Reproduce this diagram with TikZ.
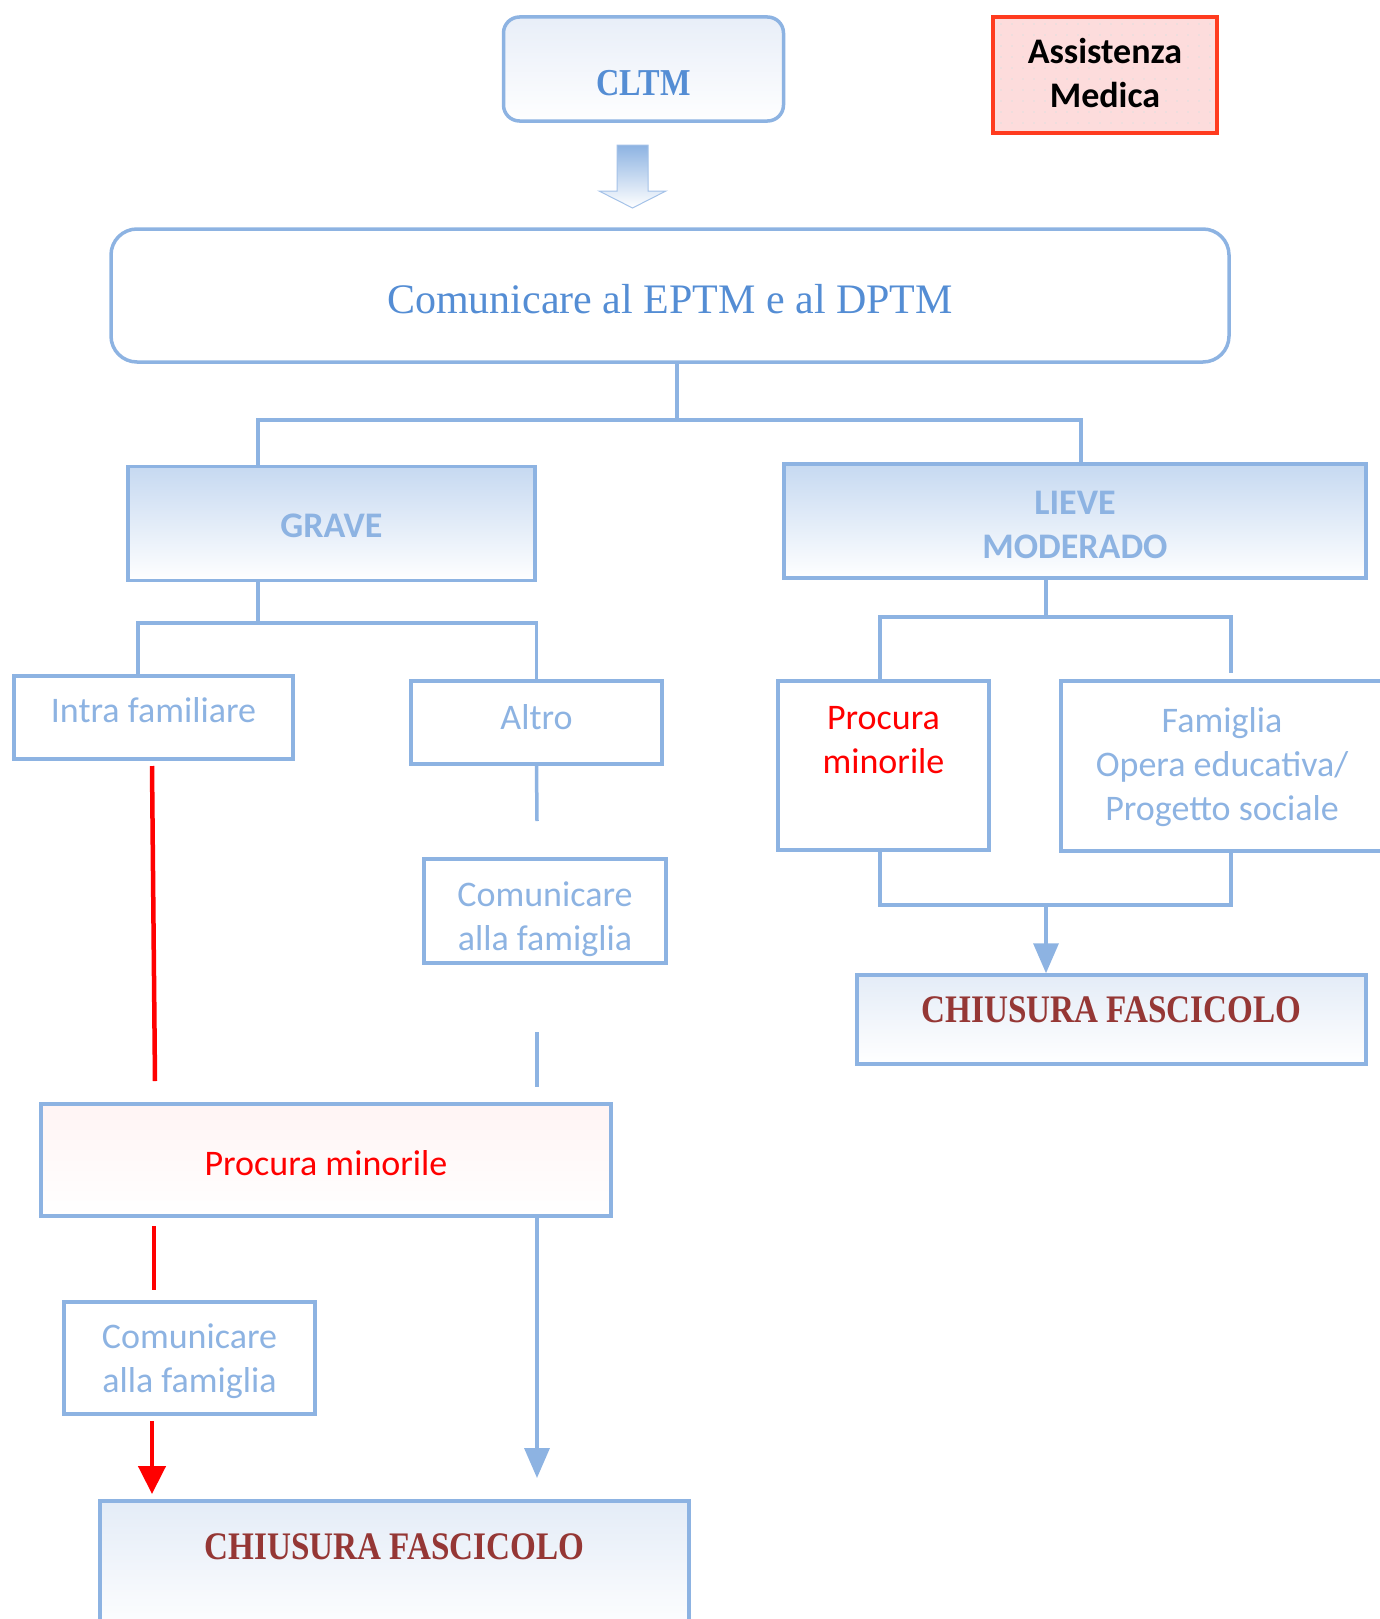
\documentclass[tikz,border=0pt]{standalone}
\usepackage{fontspec}
\setmainfont{Carlito}
\newfontfamily\titlefont[FakeStretch=0.85]{Liberation Serif}
\newfontfamily\plainserif{Liberation Serif}
\usetikzlibrary{arrows.meta,patterns.meta}
\definecolor{boxline}{RGB}{141,179,226}
\definecolor{softblue}{RGB}{141,179,226}
\definecolor{deepblue}{RGB}{84,141,212}
\definecolor{darkred}{RGB}{149,55,53}
\definecolor{gradtop}{RGB}{198,217,241}
\definecolor{cltmtop}{RGB}{232,238,248}
\definecolor{closetop}{RGB}{228,236,247}
\definecolor{procpink}{RGB}{255,244,244}
\definecolor{pinkfill}{RGB}{253,220,220}
\definecolor{alertline}{RGB}{255,59,31}
\tikzset{
  box/.style={draw=boxline, line width=3.5pt, inner sep=0pt, align=center,
              font=\fontsize{36}{44}\selectfont, text=softblue},
  level/.style={box, top color=gradtop, bottom color=white,
                font=\fontsize{36}{44}\selectfont\bfseries},
  closing/.style={box, top color=closetop, bottom color=white, text=darkred,
                  font=\fontsize{39}{46}\titlefont\bfseries},
  link/.style={draw=boxline, line width=3.5pt},
  flowarrow/.style={link, -{Triangle[width=25pt,length=30pt]}},
  redlink/.style={draw=red, line width=4.5pt},
  redarrow/.style={redlink, -{Triangle[width=27pt,length=28pt]}},
}
\begin{document}
\begin{tikzpicture}[x=1pt,y=-1pt]
  \useasboundingbox (0,0) rectangle (1380,1619);
  % top
  \node[box, rounded corners=16pt, top color=cltmtop, bottom color=white!96!cltmtop,
        minimum width=280pt, minimum height=104pt, text height=52pt, text depth=0pt,
        text=deepblue, font=\fontsize{38}{44}\titlefont\bfseries] (cltm) at (643.5,69) {CLTM};
  \shade[top color=boxline, bottom color=white, draw=boxline!80, line width=1pt]
    (617,145) -- (648,145) -- (648,191) -- (666,191) -- (632.5,208) -- (599,191) -- (617,191) -- cycle;
  \node[box, draw=alertline, preaction={fill=pinkfill}, pattern={Dots[distance=11pt,radius=0.9pt]},
        pattern color=black!12, minimum width=224pt, minimum height=116pt,
        text=black, font=\fontsize{36}{44}\selectfont\bfseries,
        text height=64pt, text depth=0pt] (medica) at (1105,75) {Assistenza\\Medica};
  \node[box, rounded corners=26pt, minimum width=1118pt, minimum height=133pt,
        text height=35pt, text depth=0pt, text=deepblue,
        font=\fontsize{42}{48}\plainserif] (eptm) at (670,295.5) {Comunicare al EPTM e al DPTM};
  % severity
  \node[level, minimum width=407pt, minimum height=114pt, text height=27pt, text depth=0pt]
    (grave) at (331.5,523.5) {GRAVE};
  \node[level, minimum width=582pt, minimum height=114pt, text height=74pt, text depth=0pt]
    (lieve) at (1075,521) {LIEVE\\MODERADO};
  % left branch
  \node[box, minimum width=279pt, minimum height=83pt, text height=9pt, text depth=0pt]
    (intra) at (153.5,717.5) {Intra familiare};
  \node[box, minimum width=251pt, minimum height=83pt, text height=13pt, text depth=0pt]
    (altro) at (536.5,722.5) {Altro};
  \node[box, minimum width=242pt, minimum height=104pt, text height=78pt, text depth=0pt]
    (comA) at (545,911) {Comunicare\\alla famiglia};
  \node[box, top color=procpink, bottom color=white, text=red, minimum width=570pt,
        minimum height=112pt, text height=30pt, text depth=0pt]
    (procB) at (326,1160) {Procura minorile};
  \node[box, minimum width=251pt, minimum height=112pt, text height=68pt, text depth=0pt]
    (comB) at (189.5,1358) {Comunicare\\alla famiglia};
  \node[closing, minimum width=589pt, minimum height=137pt, text height=0pt, text depth=21pt]
    (chiusB) at (394.5,1569.5) {CHIUSURA FASCICOLO};
  % right branch
  \node[box, text=red, minimum width=211pt, minimum height=169pt, text height=15pt, text depth=0pt]
    (procS) at (883.5,765.5) {Procura\\minorile};
  \node[box, minimum width=322pt, minimum height=170pt, text height=108pt, text depth=0pt]
    (famiglia) at (1222,766) {Famiglia\\Opera educativa/\\Progetto sociale};
  \node[closing, minimum width=509pt, minimum height=89pt, text height=5pt, text depth=0pt]
    (chiusA) at (1111.5,1019.5) {CHIUSURA FASCICOLO};
  % connectors
  \coordinate (j1) at (677,420);
  \coordinate (j2) at (258,623);
  \coordinate (j3) at (1046,617);
  \coordinate (j4) at (1046,905);
  \draw[link] (eptm.south -| j1) -- (j1) -| (grave.north -| j2);
  \draw[link] (j1) -| ([xshift=6pt]lieve.north);
  \draw[link] (grave.south -| j2) -- (j2) -| ([xshift=-15.5pt]intra.north);
  \draw[link] (j2) -| (altro.north);
  \coordinate (a1) at (537,821);
  \coordinate (a2) at (537,1032);
  \coordinate (a3) at (537,1087);
  \coordinate (a4) at (537,1478);
  \draw[link] (altro.south) -- (a1);
  \draw[link] (a2) -- (a3);
  \draw[flowarrow] (procB.south -| a4) -- (a4);
  \draw[link] (lieve.south -| j3) -- (j3) -| ([xshift=-3.5pt]procS.north);
  \draw[link] (j3) -| ([xshift=9pt,yshift=6pt]famiglia.north);
  \draw[link] ([xshift=-3.5pt]procS.south) |- (j4);
  \draw[link] ([xshift=9pt]famiglia.south) |- (j4);
  \draw[flowarrow] (j4) -- (chiusA.north -| j4);
  % red path
  \coordinate (r1) at (152,766);
  \coordinate (r2) at (155,1081);
  \coordinate (r3) at (154,1226);
  \coordinate (r4) at (154,1290);
  \coordinate (r5) at (152,1421);
  \coordinate (r6) at (152,1494);
  \draw[redlink] (r1) -- (r2);
  \draw[redlink] (r3) -- (r4);
  \draw[redarrow] (r5) -- (r6);
\end{tikzpicture}
\end{document}
